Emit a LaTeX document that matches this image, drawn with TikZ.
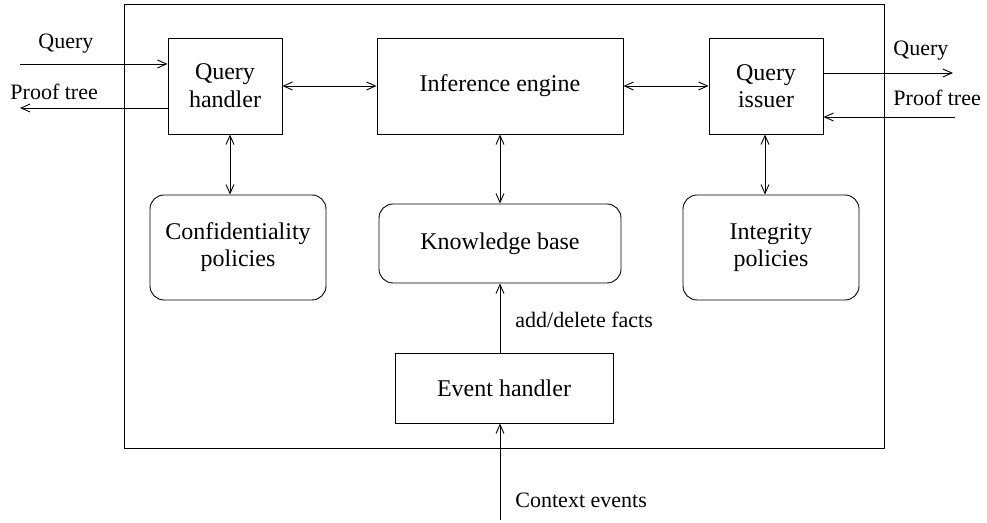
\documentclass[tikz,border=0pt]{standalone}
\usepackage{fontspec}
\setmainfont{Liberation Serif}
\usetikzlibrary{arrows.meta}
\begin{document}
\begin{tikzpicture}[x=0.5pt,y=-0.5pt,
  every node/.style={font=\fontsize{12}{13.5}\selectfont},
  line width=0.45pt,
  arr/.style={-{Straight Barb[length=4.5pt,width=4pt]}},
  darr/.style={{Straight Barb[length=4.5pt,width=4pt]}-{Straight Barb[length=4.5pt,width=4pt]}},
  sq/.style={draw,align=center,inner sep=0pt},
  rd/.style={draw,rounded corners=7pt,align=center,inner sep=0pt},
  lbl/.style={inner sep=0pt,anchor=west,font=\fontsize{11}{13}\selectfont}]
\useasboundingbox (0,0) rectangle (987,523);
\draw (124,4) rectangle (884,448);
\node[sq,minimum width=57pt,minimum height=48pt] (qh) at (225,86) {\raisebox{-3pt}{\shortstack{Query\\handler}}};
\node[sq,minimum width=123pt,minimum height=48pt] (ie) at (500,86) {Inference engine};
\node[sq,minimum width=57pt,minimum height=48pt] (qi) at (766,86) {\raisebox{-3pt}{\shortstack{Query\\issuer}}};
\node[rd,minimum width=88pt,minimum height=52.5pt] (cp) at (238,247.5) {Confidentiality\\policies};
\node[rd,minimum width=121pt,minimum height=39.5pt] (kb) at (500,243.5) {Knowledge base};
\node[rd,minimum width=88pt,minimum height=52.5pt] (ip) at (771,247.5) {Integrity\\policies};
\node[sq,minimum width=109pt,minimum height=35pt] (eh) at (504,388) {Event handler};
% external coordinates
\coordinate (qin) at (20,64);
\coordinate (ptout) at (20,108);
\coordinate (qout) at (953,73);
\coordinate (ptin) at (955,117);
\coordinate (ce) at (500,520);
\draw[arr] (qin) -- (qin -| qh.west);
\draw[arr] (ptout -| qh.west) -- (ptout);
\draw[arr] (qout -| qi.east) -- (qout);
\draw[arr] (ptin) -- (ptin -| qi.east);
\node[lbl] at (38,44) {Query};
\node[lbl] at (10,92) {Proof tree};
\node[lbl] at (893,51) {Query};
\node[lbl] at (893,98) {Proof tree};
\draw[darr] (qh.east) -- (ie.west);
\draw[darr] (ie.east) -- (qi.west);
\draw[darr] (qh.south -| cp.north) ++(-8,0) coordinate (a1) -- (a1 |- cp.north);
\draw[darr] (ie.south) -- (kb.north);
\draw[darr] (qi.south -| ip.north) ++(-6,0) coordinate (a2) -- (a2 |- ip.north);
\draw[arr] (eh.north -| kb.south) -- (kb.south);
\draw[arr] (ce) -- (ce |- eh.south);
\node[lbl] at (515,320) {add/delete facts};
\node[lbl] at (515,500) {Context events};
\end{tikzpicture}
\end{document}
